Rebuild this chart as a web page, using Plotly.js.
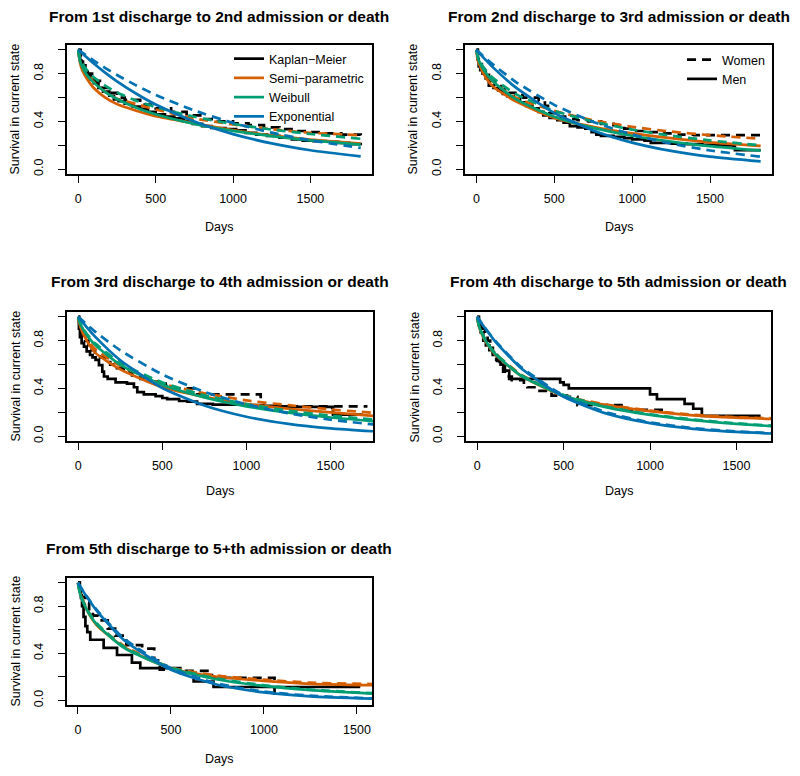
<!DOCTYPE html>
<html><head><meta charset="utf-8">
<script src="https://cdn.plot.ly/plotly-3.0.1.min.js"></script>
<style>body{margin:0;padding:0;background:#fff}#chart{width:800px;height:776px}</style>
</head><body><div id="chart"></div>
<script>
// ================= DATA =================
const panelTitles = [
  "From 1st discharge to 2nd admission or death",
  "From 2nd discharge to 3rd admission or death",
  "From 3rd discharge to 4th admission or death",
  "From 4th discharge to 5th admission or death",
  "From 5th discharge to 5+th admission or death"
];
const xTickVals = [0, 500, 1000, 1500];
const xTickText = ["0", "500", "1000", "1500"];
const yTickVals = [0, 0.2, 0.4, 0.6, 0.8, 1.0];
const yTickText = ["0.0", "", "0.4", "", "0.8", ""];
const modelNames = ["Kaplan\u2212Meier", "Semi\u2212parametric", "Weibull", "Exponential"];
const sexNames = ["Women", "Men"];
const xLabel = "Days";
const yLabel = "Survival in current state";

// ---- Panel 1 ----
const p1ModelDays  = [0, 10, 25, 50, 100, 175, 250, 375, 500, 750, 1000, 1250, 1500, 1825];
const p1SemiMen    = [1, 0.90, 0.83, 0.77, 0.68, 0.60, 0.545, 0.49, 0.445, 0.385, 0.328, 0.283, 0.248, 0.215];
const p1SemiWomen  = [1, 0.93, 0.88, 0.82, 0.73, 0.645, 0.59, 0.545, 0.50, 0.425, 0.375, 0.335, 0.305, 0.285];
const p1WeibMen    = [1, 0.913, 0.86, 0.80, 0.725, 0.646, 0.588, 0.515, 0.46, 0.379, 0.321, 0.277, 0.242, 0.206];
const p1WeibWomen  = [1, 0.932, 0.888, 0.838, 0.770, 0.698, 0.643, 0.574, 0.52, 0.439, 0.379, 0.332, 0.295, 0.255];
const p1ExpMen     = [1, 0.988, 0.970, 0.941, 0.885, 0.807, 0.736, 0.632, 0.542, 0.399, 0.294, 0.216, 0.159, 0.107];
const p1ExpWomen   = [1, 0.991, 0.977, 0.954, 0.910, 0.847, 0.789, 0.701, 0.623, 0.492, 0.388, 0.306, 0.242, 0.178];
const p1KmMenDays  = [0, 5, 12, 20, 30, 45, 60, 80, 100, 130, 160, 200, 230, 260, 300, 350, 400, 450, 500, 560, 620, 680, 740, 800, 860, 950, 1020, 1080, 1150, 1220, 1300, 1380, 1450, 1520, 1600, 1680, 1750, 1825];
const p1KmMenSurv  = [1, 0.95, 0.91, 0.88, 0.85, 0.81, 0.78, 0.75, 0.72, 0.68, 0.65, 0.615, 0.585, 0.57, 0.55, 0.525, 0.505, 0.48, 0.46, 0.44, 0.425, 0.405, 0.38, 0.36, 0.345, 0.335, 0.325, 0.305, 0.29, 0.28, 0.265, 0.25, 0.24, 0.235, 0.23, 0.22, 0.21, 0.20];
const p1KmWomenDays = [0, 15, 30, 60, 100, 150, 200, 250, 300, 400, 500, 600, 700, 800, 900, 1000, 1100, 1200, 1300, 1400, 1500, 1600, 1700, 1825];
const p1KmWomenSurv = [1, 0.92, 0.87, 0.80, 0.74, 0.68, 0.64, 0.60, 0.58, 0.54, 0.51, 0.48, 0.45, 0.42, 0.40, 0.385, 0.37, 0.35, 0.335, 0.32, 0.31, 0.30, 0.29, 0.285];

// ---- Panel 2 ----
const p2ModelDays  = [0, 10, 25, 50, 100, 250, 500, 750, 1000, 1250, 1500, 1825];
const p2SemiMen    = [1, 0.91, 0.86, 0.79, 0.70, 0.57, 0.43, 0.355, 0.30, 0.26, 0.225, 0.195];
const p2SemiWomen  = [1, 0.93, 0.88, 0.82, 0.74, 0.60, 0.49, 0.41, 0.355, 0.315, 0.285, 0.255];
const p2WeibMen    = [1, 0.933, 0.884, 0.826, 0.744, 0.589, 0.44, 0.346, 0.28, 0.231, 0.193, 0.155];
const p2WeibWomen  = [1, 0.941, 0.897, 0.846, 0.772, 0.631, 0.49, 0.399, 0.332, 0.281, 0.241, 0.20];
const p2ExpMen     = [1, 0.985, 0.963, 0.928, 0.861, 0.687, 0.472, 0.325, 0.223, 0.153, 0.105, 0.065];
const p2ExpWomen   = [1, 0.988, 0.970, 0.940, 0.884, 0.734, 0.539, 0.396, 0.291, 0.214, 0.157, 0.105];
const p2KmMenDays  = [0, 8, 15, 25, 40, 60, 80, 110, 140, 170, 200, 240, 280, 320, 360, 400, 430, 470, 520, 560, 600, 650, 700, 740, 770, 800, 880, 950, 1000, 1080, 1120, 1250, 1350, 1450, 1550, 1650, 1660, 1825];
const p2KmMenSurv  = [1, 0.92, 0.86, 0.83, 0.80, 0.76, 0.70, 0.68, 0.66, 0.63, 0.61, 0.59, 0.56, 0.53, 0.51, 0.48, 0.45, 0.43, 0.41, 0.39, 0.36, 0.35, 0.34, 0.31, 0.29, 0.28, 0.27, 0.26, 0.25, 0.24, 0.22, 0.215, 0.21, 0.205, 0.20, 0.19, 0.16, 0.16];
const p2KmWomenDays = [0, 10, 20, 35, 60, 90, 120, 160, 200, 250, 300, 400, 440, 460, 520, 570, 650, 720, 800, 880, 950, 1000, 1100, 1200, 1300, 1400, 1825];
const p2KmWomenSurv = [1, 0.93, 0.88, 0.84, 0.79, 0.74, 0.71, 0.67, 0.64, 0.62, 0.60, 0.57, 0.53, 0.47, 0.44, 0.42, 0.41, 0.40, 0.38, 0.37, 0.34, 0.32, 0.31, 0.30, 0.29, 0.285, 0.28];

// ---- Panel 3 ----
const p3ModelDays  = [0, 10, 25, 50, 100, 250, 500, 750, 1000, 1250, 1500, 1760];
const p3SemiMen    = [1, 0.93, 0.87, 0.80, 0.70, 0.56, 0.41, 0.33, 0.27, 0.23, 0.20, 0.17];
const p3SemiWomen  = [1, 0.94, 0.88, 0.82, 0.73, 0.59, 0.44, 0.36, 0.30, 0.26, 0.225, 0.195];
const p3WeibMen    = [1, 0.950, 0.905, 0.850, 0.765, 0.598, 0.43, 0.324, 0.25, 0.197, 0.157, 0.126];
const p3WeibWomen  = [1, 0.953, 0.911, 0.858, 0.778, 0.615, 0.45, 0.343, 0.269, 0.214, 0.172, 0.139];
const p3ExpMen     = [1, 0.982, 0.956, 0.913, 0.834, 0.636, 0.404, 0.257, 0.163, 0.104, 0.066, 0.041];
const p3ExpWomen   = [1, 0.987, 0.968, 0.936, 0.876, 0.719, 0.517, 0.372, 0.267, 0.192, 0.138, 0.098];
const p3KmMenDays  = [0, 4, 10, 20, 34, 50, 70, 85, 103, 123, 143, 153, 175, 222, 290, 331, 351, 390, 460, 500, 529, 600, 650, 707, 800, 1000, 1100, 1200, 1300, 1510, 1515, 1690];
const p3KmMenSurv  = [1, 0.90, 0.83, 0.78, 0.75, 0.71, 0.68, 0.66, 0.64, 0.595, 0.54, 0.50, 0.48, 0.45, 0.44, 0.41, 0.37, 0.35, 0.335, 0.32, 0.31, 0.295, 0.29, 0.27, 0.265, 0.26, 0.255, 0.25, 0.245, 0.24, 0.18, 0.18];
const p3KmWomenDays = [0, 5, 15, 25, 40, 60, 80, 100, 130, 160, 190, 230, 270, 320, 370, 420, 470, 520, 560, 700, 1085, 1720];
const p3KmWomenSurv = [1, 0.95, 0.90, 0.85, 0.80, 0.76, 0.72, 0.70, 0.66, 0.62, 0.60, 0.57, 0.54, 0.51, 0.48, 0.46, 0.44, 0.42, 0.40, 0.35, 0.25, 0.25];

// ---- Panel 4 ----
const p4ModelDays  = [0, 10, 25, 50, 100, 250, 500, 750, 1000, 1250, 1500, 1710];
const p4SemiMen    = [1, 0.92, 0.86, 0.79, 0.69, 0.51, 0.335, 0.26, 0.21, 0.175, 0.155, 0.145];
const p4SemiWomen  = [1, 0.925, 0.87, 0.80, 0.70, 0.52, 0.34, 0.265, 0.215, 0.18, 0.16, 0.15];
const p4WeibMen    = [1, 0.926, 0.867, 0.796, 0.695, 0.509, 0.34, 0.242, 0.179, 0.135, 0.104, 0.084];
const p4WeibWomen  = [1, 0.93, 0.872, 0.802, 0.70, 0.515, 0.345, 0.247, 0.184, 0.14, 0.108, 0.088];
const p4ExpMen     = [1, 0.978, 0.946, 0.895, 0.801, 0.574, 0.330, 0.189, 0.109, 0.062, 0.036, 0.022];
const p4ExpWomen   = [1, 0.979, 0.948, 0.898, 0.806, 0.584, 0.341, 0.199, 0.116, 0.068, 0.040, 0.025];
const p4KmMenDays  = [0, 10, 20, 35, 50, 70, 90, 115, 135, 160, 185, 480, 500, 530, 1000, 1040, 1200, 1250, 1300, 1640];
const p4KmMenSurv  = [1, 0.93, 0.87, 0.80, 0.76, 0.72, 0.68, 0.63, 0.60, 0.55, 0.48, 0.45, 0.43, 0.40, 0.35, 0.31, 0.27, 0.23, 0.17, 0.17];
const p4KmWomenDays = [0, 5, 15, 30, 45, 60, 75, 90, 110, 130, 150, 170, 200, 270, 290, 340, 430, 520, 580, 850, 1100];
const p4KmWomenSurv = [1, 0.96, 0.93, 0.90, 0.86, 0.80, 0.74, 0.70, 0.64, 0.58, 0.54, 0.50, 0.47, 0.43, 0.41, 0.38, 0.34, 0.33, 0.26, 0.22, 0.21];

// ---- Panel 5 ----
const p5ModelDays  = [0, 10, 25, 50, 100, 250, 500, 750, 1000, 1250, 1590];
const p5SemiMen    = [1, 0.92, 0.85, 0.76, 0.64, 0.45, 0.27, 0.20, 0.165, 0.14, 0.128];
const p5SemiWomen  = [1, 0.925, 0.86, 0.77, 0.65, 0.46, 0.28, 0.21, 0.175, 0.15, 0.138];
const p5WeibMen    = [1, 0.914, 0.846, 0.763, 0.648, 0.443, 0.27, 0.177, 0.122, 0.086, 0.056];
const p5WeibWomen  = [1, 0.918, 0.851, 0.768, 0.655, 0.452, 0.278, 0.184, 0.128, 0.091, 0.06];
const p5ExpMen     = [1, 0.973, 0.935, 0.874, 0.763, 0.509, 0.259, 0.132, 0.067, 0.034, 0.014];
const p5ExpWomen   = [1, 0.974, 0.937, 0.878, 0.771, 0.522, 0.273, 0.142, 0.074, 0.039, 0.016];
const p5KmMenDays  = [0, 8, 16, 22, 30, 40, 50, 66, 138, 210, 290, 335, 550, 622, 729, 1518];
const p5KmMenSurv  = [1, 0.93, 0.87, 0.80, 0.71, 0.63, 0.58, 0.515, 0.445, 0.385, 0.32, 0.274, 0.232, 0.16, 0.113, 0.113];
const p5KmWomenDays = [0, 10, 20, 40, 60, 80, 110, 160, 200, 260, 345, 410, 440, 550, 720, 1057];
const p5KmWomenSurv = [1, 0.95, 0.88, 0.83, 0.76, 0.72, 0.68, 0.61, 0.55, 0.47, 0.44, 0.34, 0.26, 0.25, 0.19, 0.035];

// ================= BUILD =================
const FONT = "Liberation Sans, Arial, Helvetica, sans-serif";
const COLORS = {km: "#000000", semi: "#D55E00", weib: "#009E73", exp: "#0072B2"};
const DASH = "9px,6px";
const LW = 2.7;
const W = 800, H = 776;

const panels = [
  {days: p1ModelDays, semi: [p1SemiMen, p1SemiWomen], weib: [p1WeibMen, p1WeibWomen], exp: [p1ExpMen, p1ExpWomen],
   km: [[p1KmMenDays, p1KmMenSurv], [p1KmWomenDays, p1KmWomenSurv]], box: [67, 372, 45, 174], xr: [-73, 1898], titleY: 16, daysY: 227},
  {days: p2ModelDays, semi: [p2SemiMen, p2SemiWomen], weib: [p2WeibMen, p2WeibWomen], exp: [p2ExpMen, p2ExpWomen],
   km: [[p2KmMenDays, p2KmMenSurv], [p2KmWomenDays, p2KmWomenSurv]], box: [465, 772, 45, 174], xr: [-73, 1898], titleY: 16, daysY: 227},
  {days: p3ModelDays, semi: [p3SemiMen, p3SemiWomen], weib: [p3WeibMen, p3WeibWomen], exp: [p3ExpMen, p3ExpWomen],
   km: [[p3KmMenDays, p3KmMenSurv], [p3KmWomenDays, p3KmWomenSurv]], box: [67, 373, 312, 441], xr: [-67, 1753], titleY: 281, daysY: 491},
  {days: p4ModelDays, semi: [p4SemiMen, p4SemiWomen], weib: [p4WeibMen, p4WeibWomen], exp: [p4ExpMen, p4ExpWomen],
   km: [[p4KmMenDays, p4KmMenSurv], [p4KmWomenDays, p4KmWomenSurv]], box: [466, 771, 312, 441], xr: [-65, 1700], titleY: 281, daysY: 491},
  {days: p5ModelDays, semi: [p5SemiMen, p5SemiWomen], weib: [p5WeibMen, p5WeibWomen], exp: [p5ExpMen, p5ExpWomen],
   km: [[p5KmMenDays, p5KmMenSurv], [p5KmWomenDays, p5KmWomenSurv]], box: [67, 372, 578, 705], xr: [-59, 1581], titleY: 548, daysY: 759}
];

const traces = [];
const layout = {
  width: W, height: H, margin: {l: 0, r: 0, t: 0, b: 0},
  paper_bgcolor: "#fff", plot_bgcolor: "#fff",
  font: {family: FONT, color: "#000"},
  showlegend: true,
  legend: {x: 229 / W, y: 1 - 44 / H, xanchor: "left", yanchor: "top", bgcolor: "rgba(0,0,0,0)",
           borderwidth: 0, font: {family: FONT, size: 12.5, color: "#000"}, tracegroupgap: 0},
  legend2: {x: 682 / W, y: 1 - 45 / H, xanchor: "left", yanchor: "top", bgcolor: "rgba(0,0,0,0)",
            borderwidth: 0, font: {family: FONT, size: 12.5, color: "#000"}, tracegroupgap: 0},
  annotations: []
};

panels.forEach((p, i) => {
  const k = i === 0 ? "" : String(i + 1);
  const xa = "x" + k, ya = "y" + k;
  const [l, r, t, b] = p.box;
  layout["xaxis" + k] = {
    domain: [l / W, r / W], range: p.xr, anchor: ya,
    tickmode: "array", tickvals: xTickVals, ticktext: xTickText,
    ticks: "outside", ticklen: 7, tickwidth: 1, tickcolor: "#000",
    showline: true, linewidth: 2, linecolor: "#000", mirror: true,
    showgrid: false, zeroline: false, ticklabelstandoff: 5,
    tickfont: {family: FONT, size: 12.5, color: "#000"}, fixedrange: true
  };
  layout["yaxis" + k] = {
    domain: [1 - b / H, 1 - t / H], range: [-0.04, 1.04], anchor: xa,
    tickmode: "array", tickvals: yTickVals, ticktext: yTickText, tickangle: -90,
    ticks: "outside", ticklen: 7, tickwidth: 1, tickcolor: "#000",
    showline: true, linewidth: 2, linecolor: "#000", mirror: true,
    showgrid: false, zeroline: false, ticklabelstandoff: 10,
    tickfont: {family: FONT, size: 12.5, color: "#000"}, fixedrange: true
  };
  const cx = (l + r) / 2 / W;
  layout.annotations.push(
    {text: "<b>" + panelTitles[i] + "</b>", xref: "paper", yref: "paper", x: cx, y: 1 - p.titleY / H,
     xanchor: "center", yanchor: "middle", showarrow: false, font: {family: FONT, size: 15.5, color: "#000"}},
    {text: xLabel, xref: "paper", yref: "paper", x: cx, y: 1 - p.daysY / H,
     xanchor: "center", yanchor: "middle", showarrow: false, font: {family: FONT, size: 12.5, color: "#000"}},
    {text: yLabel, xref: "paper", yref: "paper", x: (l - 52) / W, y: 1 - (t + b) / 2 / H, textangle: -90,
     xanchor: "center", yanchor: "middle", showarrow: false, font: {family: FONT, size: 12.5, color: "#000"}}
  );

  // Kaplan-Meier (men solid, women dashed)
  [0, 1].forEach(s => {
    const tr = {x: p.km[s][0], y: p.km[s][1], xaxis: xa, yaxis: ya, type: "scatter", mode: "lines",
      line: {color: COLORS.km, width: LW, shape: "hv", dash: s === 0 ? "solid" : DASH},
      hoverinfo: "skip", showlegend: false};
    if (i === 0 && s === 0) { tr.name = modelNames[0]; tr.showlegend = true; tr.legend = "legend"; }
    if (i === 1) { tr.name = s === 0 ? sexNames[1] : sexNames[0]; tr.showlegend = true; tr.legend = "legend2"; tr.legendrank = s === 0 ? 2 : 1; }
    traces.push(tr);
  });
  [["semi", 1], ["weib", 2], ["exp", 3]].forEach(([key, mi]) => {
    [0, 1].forEach(s => {
      const tr = {x: p.days, y: p[key][s], xaxis: xa, yaxis: ya, type: "scatter", mode: "lines",
        line: {color: COLORS[key], width: LW, shape: "spline", smoothing: 0.6, dash: s === 0 ? "solid" : DASH},
        hoverinfo: "skip", showlegend: false};
      if (i === 0 && s === 0) { tr.name = modelNames[mi]; tr.showlegend = true; tr.legend = "legend"; }
      traces.push(tr);
    });
  });
});

Plotly.newPlot("chart", traces, layout, {staticPlot: true, displayModeBar: false});
</script>
</body></html>
